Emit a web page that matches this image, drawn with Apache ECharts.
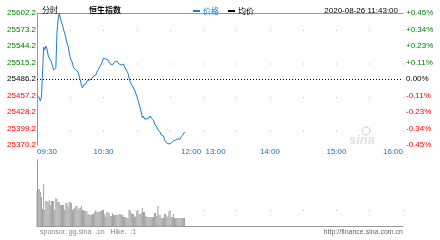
<!DOCTYPE html>
<html>
<head>
<meta charset="utf-8">
<script src="https://cdn.jsdelivr.net/npm/echarts@6/dist/echarts.min.js"></script>
<style>html,body{margin:0;padding:0;background:#fff}#c{width:440px;height:240px}</style>
</head>
<body>
<div id="c"></div>
<script>
// minutes since 09:30 (lunch break collapsed: 150 = 12:00 / 13:00, 330 = 16:00)
var timeTickVals = [0, 60, 150, 210, 270, 330];
var timeTickLabels = ['09:30', '10:30', '12:00  13:00', '14:00', '15:00', '16:00'];
var prevClose = 25486.2;
var priceTicks = [25370.2, 25399.2, 25428.2, 25457.2, 25486.2, 25515.2, 25544.2, 25573.2, 25602.2];
var pctLabels = ['-0.45%', '-0.34%', '-0.23%', '-0.11%', '0.00%', '+0.11%', '+0.23%', '+0.34%', '+0.45%'];
var price = [
25458.1,25461.6,25452.8,25447.5,25454.6,25496.7,25542.4,25537.2,25544.2,25538.9,
25528.4,25523.1,25519.6,25516.1,25509.0,25502.0,25498.5,25505.5,25567.0,25589.9,
25602.2,25593.4,25586.4,25581.1,25572.3,25567.0,25558.3,25549.5,25544.2,25533.7,
25523.1,25519.6,25514.3,25505.5,25509.0,25502.0,25503.8,25498.5,25491.5,25484.4,
25475.7,25470.4,25475.7,25473.9,25477.4,25482.7,25484.4,25484.4,25487.9,25486.2,
25489.7,25491.5,25495.0,25493.2,25498.5,25500.3,25505.5,25503.8,25512.6,25516.1,
25523.1,25526.6,25521.4,25524.9,25519.6,25516.1,25512.6,25514.3,25510.8,25514.3,
25516.1,25512.6,25517.8,25516.1,25512.6,25514.3,25510.8,25509.0,25512.6,25507.3,
25503.8,25500.3,25496.7,25487.9,25480.9,25484.4,25473.9,25470.4,25466.9,25461.6,
25456.3,25449.3,25442.3,25435.2,25428.2,25417.6,25421.2,25415.9,25412.4,25415.9,
25419.4,25417.6,25421.2,25417.6,25419.4,25414.1,25407.1,25410.6,25401.8,25396.6,
25400.1,25393.0,25387.8,25384.3,25386.0,25379.0,25375.5,25373.7,25377.2,25371.9,
25370.2,25373.7,25371.9,25377.2,25375.5,25379.0,25377.2,25380.7,25379.0,25380.7,
25384.3,25386.0,25389.5,25393.0
];
var volume = [
35,37,37,34,29,17,42,16,25,25,
24,26,21,25,25,25,16,28,27,24,
24,21,21,21,21,16,23,23,19,24,
24,23,16,17,18,20,20,16,18,18,
20,16,16,15,15,15,12,12,11,11,
12,12,14,16,14,14,14,15,15,16,
16,12,9,14,14,13,10,10,13,11,
11,11,11,11,12,12,11,11,9,9,
9,8,8,16,16,13,12,12,9,10,
15,15,12,12,13,18,14,14,10,9,
9,9,9,9,9,9,13,13,10,20,
11,11,8,8,8,12,12,9,10,15,
15,9,9,12,8,8,8,8,8,8,
8,8,8,8
];

var priceData = price.map(function (v, i) { return [i, v]; });
var volData = volume.map(function (v, i) { return [i, v]; });
function tickColor(v) {
  if (Math.abs(v - prevClose) < 0.05) return '#000';
  return v > prevClose ? '#008000' : '#ff0000';
}
var FONT = '"Liberation Sans", Arial, sans-serif';
var CJK = '"Noto Sans CJK SC", sans-serif';
var GRAY = '#999';

var chart = echarts.init(document.getElementById('c'), null, {renderer: 'canvas'});
chart.setOption({
  animation: false,
  backgroundColor: '#fff',
  title: [
    {text: '分时', left: 37, top: 1, textStyle: {fontSize: 8, fontWeight: 'normal', color: '#000', fontFamily: CJK}},
    {text: '恒生指数', left: 84, top: 1, textStyle: {fontSize: 8, fontWeight: 'bold', color: '#000', fontFamily: CJK}},
    {text: '2020-08-26 11:43:00', right: 37, top: 2, textStyle: {fontSize: 8, fontWeight: 'normal', color: '#000', fontFamily: FONT}}
  ],
  legend: {
    left: 188, top: 2, icon: 'rect', itemWidth: 7, itemHeight: 2, itemGap: 9,
    data: ['价格', '均价'],
    textStyle: {fontSize: 8, color: 'inherit', fontFamily: CJK, padding: [0, 0, 0, -2]}
  },
  grid: [
    {left: 37, width: 366, top: 13, height: 132},
    {left: 37, width: 366, top: 160, height: 66}
  ],
  xAxis: [
    {gridIndex: 0, type: 'value', min: 0, max: 330, interval: 30, position: 'bottom',
     axisLine: {show: false}, axisTick: {show: false},
     splitLine: {show: true, lineStyle: {color: '#bbb', width: 1, type: [1, 32.5], dashOffset: 16.5}},
     axisLabel: {customValues: timeTickVals, margin: 3, fontSize: 8, color: '#1a6fc9', fontFamily: FONT,
       alignMinLabel: 'left', alignMaxLabel: 'right',
       formatter: function (v) { return timeTickLabels[timeTickVals.indexOf(v)]; }}},
    {gridIndex: 0, type: 'value', min: 0, max: 330, position: 'top',
     axisLine: {show: true, lineStyle: {color: GRAY, width: 1}}, axisTick: {show: false},
     axisLabel: {show: false}, splitLine: {show: false}},
    {gridIndex: 1, type: 'value', min: 0, max: 330, interval: 30, position: 'top',
     axisLine: {show: true, lineStyle: {color: GRAY, width: 1}}, axisTick: {show: false},
     axisLabel: {show: false},
     splitLine: {show: true, lineStyle: {color: '#bbb', width: 1, type: [1, 100], dashOffset: 51}}}
  ],
  yAxis: [
    {gridIndex: 0, type: 'value', min: priceTicks[0], max: priceTicks[priceTicks.length - 1], position: 'left',
     axisLine: {show: false}, axisTick: {show: false}, splitLine: {show: false},
     axisLabel: {customValues: priceTicks, margin: 1, fontSize: 8, fontFamily: FONT,
       formatter: function (v) { return v.toFixed(1); },
       color: function (v) { return tickColor(Number(v)); }}},
    {gridIndex: 0, type: 'value', min: priceTicks[0], max: priceTicks[priceTicks.length - 1], position: 'right',
     axisLine: {show: true, lineStyle: {color: GRAY, width: 1}}, axisTick: {show: false}, splitLine: {show: false},
     axisLabel: {customValues: priceTicks, margin: 3, fontSize: 8, fontFamily: FONT,
       formatter: function (v) { var i = priceTicks.indexOf(v); return pctLabels[i]; },
       color: function (v) { return tickColor(Number(v)); }}},
    {gridIndex: 1, type: 'value', min: 0, max: 66, position: 'right',
     axisLine: {show: true, lineStyle: {color: GRAY, width: 1}}, axisTick: {show: false},
     axisLabel: {show: false}, splitLine: {show: false}}
  ],
  graphic: [
    {type: 'circle', shape: {cx: 366, cy: 131, r: 4}, z: 0,
     style: {fill: 'none', stroke: '#f0d8d8', lineWidth: 1.5}},
    {type: 'text', left: 349, top: 134, z: 0,
     style: {text: 'sina', fontSize: 13, fontStyle: 'italic', fontWeight: 'bold', fill: '#e2e2e2', fontFamily: FONT}},
    {type: 'text', left: 40, top: 229,
     style: {text: 'sponsor: gg.sina  .cn   Hike.  :1', fontSize: 7, fill: '#888', fontFamily: FONT}},
    {type: 'text', right: 37, top: 229,
     style: {text: 'http://finance.sina.com.cn', fontSize: 7, fill: '#666', fontFamily: FONT}}
  ],
  series: [
    {name: '价格', type: 'line', xAxisIndex: 0, yAxisIndex: 0, data: priceData,
     showSymbol: false, symbol: 'none', color: '#1a7fd0', lineStyle: {width: 1, color: '#1a7fd0'}, z: 5,
     markLine: {silent: true, symbol: 'none', label: {show: false},
       lineStyle: {color: '#000', width: 1, type: [1, 2]},
       data: [{yAxis: prevClose}]}},
    {name: '均价', type: 'line', xAxisIndex: 0, yAxisIndex: 0, data: [], color: '#000', showSymbol: false},
    {name: '成交量', type: 'bar', xAxisIndex: 2, yAxisIndex: 2, data: volData, barWidth: 0.8,
     itemStyle: {color: '#a0a0a0'}}
  ]
});
</script>
</body>
</html>
